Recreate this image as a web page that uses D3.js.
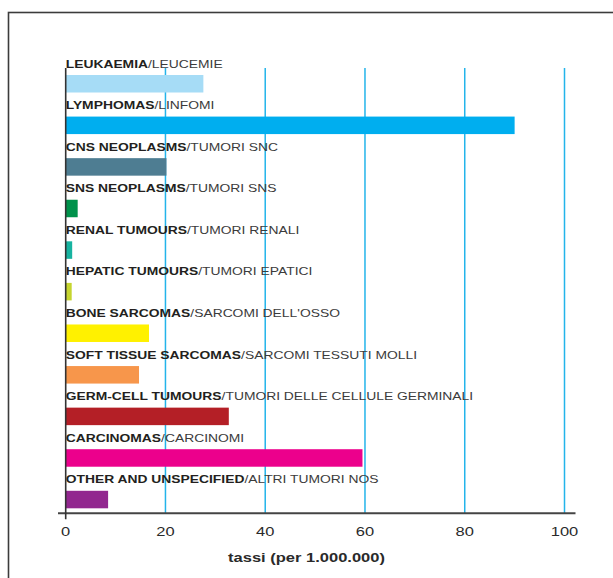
<!DOCTYPE html>
<html>
<head>
<meta charset="utf-8">
<script src="https://cdn.jsdelivr.net/npm/d3@7"></script>
<style>
  html, body { margin: 0; padding: 0; background: #fff; }
  svg { display: block; }
  text { font-family: "Liberation Sans", Arial, Helvetica, sans-serif; }
</style>
</head>
<body>
<svg id="chart" width="613" height="578"></svg>
<script>
// Tumour groups: English name (bold) and Italian name
const groupsEn = [
  "LEUKAEMIA", "LYMPHOMAS", "CNS NEOPLASMS", "SNS NEOPLASMS", "RENAL TUMOURS",
  "HEPATIC TUMOURS", "BONE SARCOMAS", "SOFT TISSUE SARCOMAS", "GERM-CELL TUMOURS",
  "CARCINOMAS", "OTHER AND UNSPECIFIED"
];
const groupsIt = [
  "LEUCEMIE", "LINFOMI", "TUMORI SNC", "TUMORI SNS", "TUMORI RENALI",
  "TUMORI EPATICI", "SARCOMI DELL'OSSO", "SARCOMI TESSUTI MOLLI",
  "TUMORI DELLE CELLULE GERMINALI", "CARCINOMI", "ALTRI TUMORI NOS"
];
// Incidence rates per 1,000,000
const rates = [27.6, 90.0, 20.2, 2.4, 1.3, 1.2, 16.7, 14.7, 32.7, 59.5, 8.5];
const barColors = [
  "#a6dcf6", "#00aeef", "#4e7d92", "#00924b", "#17b3a0",
  "#c6d52f", "#fff100", "#f7964b", "#b41f26", "#ec008c", "#92278f"
];
const xTicks = [0, 20, 40, 60, 80, 100];
const xTitle = "tassi (per 1.000.000)";

const svg = d3.select("#chart");
const stretch = 1.32; // wide type setting

// Outer frame
svg.append("rect")
  .attr("x", 8.5).attr("y", 12.5)
  .attr("width", 700).attr("height", 700)
  .attr("fill", "none").attr("stroke", "#3c3c3c").attr("stroke-width", 1.6);

const x = d3.scaleLinear().domain([0, 100]).range([65.7, 564.5]);
const y = d3.scaleBand()
  .domain(d3.range(groupsEn.length))
  .range([75, 508.3])
  .paddingInner(0.579)
  .paddingOuter(0);

const axisY = 513.3;
const gridTop = 68;

// Vertical gridlines
svg.append("g").selectAll("line")
  .data(xTicks.filter(t => t > 0))
  .join("line")
  .attr("x1", d => x(d)).attr("x2", d => x(d))
  .attr("y1", gridTop).attr("y2", axisY)
  .attr("stroke", "#23b4ea").attr("stroke-width", 1.5);

// Bars
svg.append("g").selectAll("rect")
  .data(rates)
  .join("rect")
  .attr("x", x(0))
  .attr("y", (d, i) => y(i))
  .attr("width", d => x(d) - x(0))
  .attr("height", y.bandwidth())
  .attr("fill", (d, i) => barColors[i]);

// Category labels above each bar
const labels = svg.append("g").selectAll("text")
  .data(groupsEn)
  .join("text")
  .attr("transform", (d, i) => `translate(${x(0)},${y(i) - 7.5}) scale(${stretch},1)`)
  .attr("font-size", 10.5)
  .attr("fill", "#231f20");
labels.append("tspan").attr("font-weight", "bold").text(d => d);
labels.append("tspan").attr("fill", "#3b3b3b").text((d, i) => "/" + groupsIt[i]);

// Baseline axis and zero line
svg.append("line")
  .attr("x1", 58).attr("x2", 575.5)
  .attr("y1", axisY).attr("y2", axisY)
  .attr("stroke", "#444").attr("stroke-width", 2);
svg.append("line")
  .attr("x1", x(0)).attr("x2", x(0))
  .attr("y1", gridTop).attr("y2", axisY + 6)
  .attr("stroke", "#333").attr("stroke-width", 1.6);

// Tick labels
svg.append("g").selectAll("text")
  .data(xTicks)
  .join("text")
  .attr("transform", d => `translate(${x(d)},536) scale(${stretch},1)`)
  .attr("text-anchor", "middle")
  .attr("font-size", 12.5)
  .attr("fill", "#2a2a2a")
  .text(d => d);

// Axis title
svg.append("text")
  .attr("transform", `translate(306.5,562) scale(1.27,1)`)
  .attr("text-anchor", "middle")
  .attr("font-size", 13)
  .attr("font-weight", "bold")
  .attr("fill", "#2a2a2a")
  .text(xTitle);
</script>
</body>
</html>
